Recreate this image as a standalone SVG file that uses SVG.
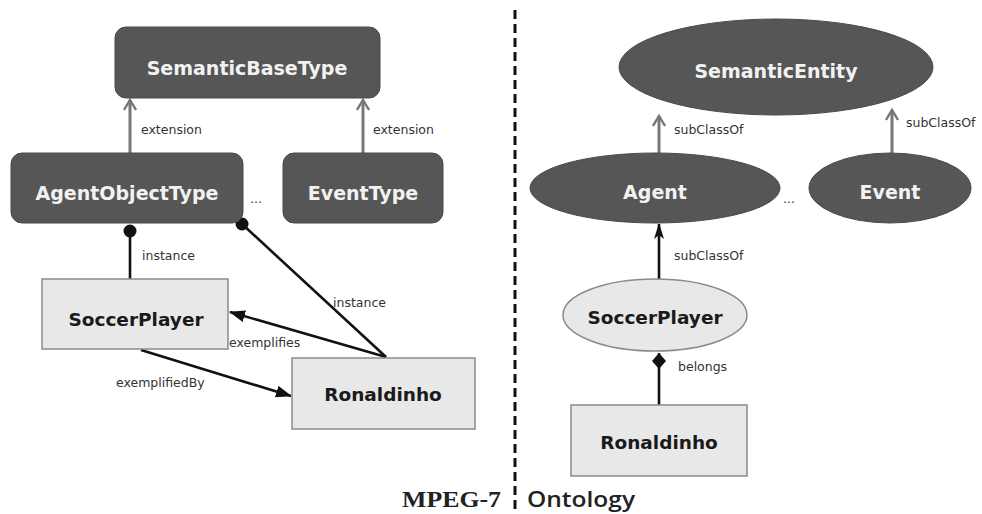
<svg xmlns="http://www.w3.org/2000/svg" width="982" height="514" viewBox="0 0 982 514">
<defs>
<style>
.dark{fill:#565656;stroke:#4a4a4a;stroke-width:1}
.light{fill:#e8e8e8;stroke:#8a8a8a;stroke-width:1.5}
.tw{font-family:"DejaVu Sans",sans-serif;font-weight:bold;font-size:19px;fill:#f2f2f2;text-anchor:middle}
.tb{font-family:"DejaVu Sans",sans-serif;font-weight:bold;font-size:18.5px;fill:#1a1a1a;text-anchor:middle}
.lbl{font-family:"DejaVu Sans",sans-serif;font-size:12.5px;fill:#333}
.gray{stroke:#777;stroke-width:3;fill:none}
.blk{stroke:#111;stroke-width:2.6;fill:none}
</style>
<marker id="openG" viewBox="0 0 14 14" refX="12" refY="7" markerWidth="14" markerHeight="14" markerUnits="userSpaceOnUse" orient="auto">
<path d="M2,1 L12,7 L2,13" fill="none" stroke="#777" stroke-width="2.4"/>
</marker>
<marker id="fillN" viewBox="0 0 16 12" refX="15" refY="6" markerWidth="16" markerHeight="12" markerUnits="userSpaceOnUse" orient="auto">
<path d="M0,1 L16,6 L0,11 L4,6 Z" fill="#111"/>
</marker>
<marker id="fillB" viewBox="0 0 16 12" refX="15" refY="6" markerWidth="16" markerHeight="12" markerUnits="userSpaceOnUse" orient="auto">
<path d="M0,0 L16,6 L0,12 Z" fill="#111"/>
</marker>
<marker id="dot" viewBox="0 0 14 14" refX="7" refY="7" markerWidth="14" markerHeight="14" markerUnits="userSpaceOnUse">
<circle cx="7" cy="7" r="6.5" fill="#111"/>
</marker>
<marker id="dia" viewBox="0 0 14 20" refX="7" refY="0" markerWidth="14" markerHeight="20" markerUnits="userSpaceOnUse">
<path d="M7,0 L14,8 L7,16 L0,8 Z" fill="#111"/>
</marker>
</defs>
<rect width="982" height="514" fill="#ffffff"/>

<g id="connectors">
<line class="gray" x1="130" y1="153" x2="130" y2="100" marker-end="url(#openG)"/>
<line class="gray" x1="363" y1="153" x2="363" y2="100" marker-end="url(#openG)"/>
<line class="blk" x1="130" y1="279" x2="130" y2="231" marker-end="url(#dot)"/>
<line class="blk" x1="386" y1="357" x2="242" y2="224" marker-end="url(#dot)"/>
<line class="blk" x1="386" y1="357" x2="230" y2="312" marker-end="url(#fillB)"/>
<line class="blk" x1="141" y1="350" x2="291" y2="396" marker-end="url(#fillB)"/>
<line class="gray" x1="659" y1="153" x2="659" y2="116" marker-end="url(#openG)"/>
<line class="gray" x1="892" y1="153" x2="892" y2="110" marker-end="url(#openG)"/>
<line class="blk" x1="659" y1="279" x2="659" y2="224" marker-end="url(#fillN)"/>
<line class="blk" x1="659" y1="405" x2="659" y2="353" marker-end="url(#dia)"/>
<text class="lbl" x="141" y="134">extension</text>
<text class="lbl" x="373" y="134">extension</text>
<text class="lbl" x="142" y="260">instance</text>
<text class="lbl" x="333" y="307">instance</text>
<text class="lbl" x="229" y="347">exemplifies</text>
<text class="lbl" x="116" y="387">exemplifiedBy</text>
<text class="lbl" x="674" y="134">subClassOf</text>
<text class="lbl" x="906" y="127">subClassOf</text>
<text class="lbl" x="674" y="260">subClassOf</text>
<text class="lbl" x="678" y="371">belongs</text>
<text class="lbl" x="250" y="203">...</text>
<text class="lbl" x="783" y="203">...</text>
</g>

<g id="SemanticBaseType">
<rect class="dark" x="115" y="27" width="265" height="71" rx="11"/>
<text class="tw" x="247" y="75">SemanticBaseType</text>
</g>
<g id="AgentObjectType">
<rect class="dark" x="11" y="153" width="232" height="70" rx="11"/>
<text class="tw" x="127" y="200">AgentObjectType</text>
</g>
<g id="EventType">
<rect class="dark" x="283" y="153" width="160" height="70" rx="11"/>
<text class="tw" x="363" y="200">EventType</text>
</g>
<g id="SoccerPlayerL">
<rect class="light" x="42" y="279" width="186" height="70"/>
<text class="tb" x="136" y="326">SoccerPlayer</text>
</g>
<g id="RonaldinhoL">
<rect class="light" x="292" y="358" width="183" height="71"/>
<text class="tb" x="383" y="401">Ronaldinho</text>
</g>

<g id="SemanticEntity">
<ellipse class="dark" cx="776" cy="67" rx="157" ry="48"/>
<text class="tw" x="776" y="78">SemanticEntity</text>
</g>
<g id="Agent">
<ellipse class="dark" cx="655" cy="188" rx="125" ry="35"/>
<text class="tw" x="655" y="199">Agent</text>
</g>
<g id="Event">
<ellipse class="dark" cx="890" cy="188" rx="81" ry="35"/>
<text class="tw" x="890" y="199">Event</text>
</g>
<g id="SoccerPlayerR">
<ellipse class="light" cx="655" cy="315" rx="92" ry="36"/>
<text class="tb" x="655" y="324">SoccerPlayer</text>
</g>
<g id="RonaldinhoR">
<rect class="light" x="571" y="405" width="176" height="71"/>
<text class="tb" x="659" y="449">Ronaldinho</text>
</g>

<g id="divider">
<line x1="515" y1="10" x2="515" y2="514" stroke="#111" stroke-width="3" stroke-dasharray="9,5"/>
<text x="402" y="507" font-family="Liberation Serif,serif" font-weight="bold" font-size="23" fill="#222" textLength="99" lengthAdjust="spacingAndGlyphs">MPEG-7</text>
<text x="527" y="507" font-family="Open Sans,sans-serif" font-weight="600" font-size="22" fill="#222" textLength="108" lengthAdjust="spacingAndGlyphs">Ontology</text>
</g>
</svg>
